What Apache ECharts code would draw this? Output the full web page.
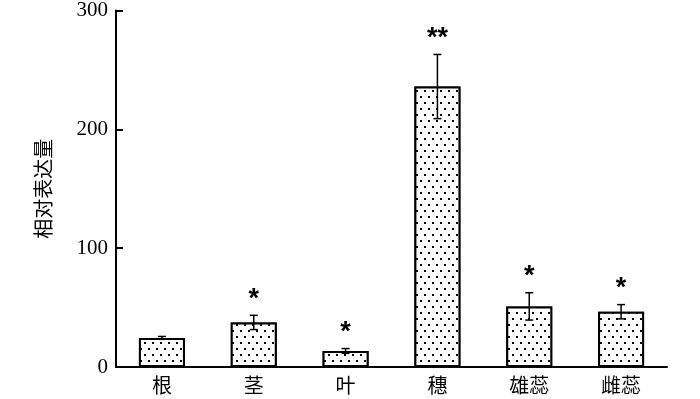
<!DOCTYPE html>
<html>
<head>
<meta charset="utf-8">
<script src="https://cdn.jsdelivr.net/npm/echarts@6/dist/echarts.min.js"></script>
<style>
  html, body { margin: 0; padding: 0; background: #fff; }
  #main { width: 700px; height: 399px; }
</style>
</head>
<body>
<div id="main"></div>
<script>
const categories = ['根', '茎', '叶', '穗', '雄蕊', '雌蕊'];
const values = [24.5, 37.5, 13.5, 236, 51, 46.5];
const errors = [1.2, 6, 2, 27, 11.5, 6];
const marks = ['', '*', '*', '**', '*', '*'];
const yTicks = [0, 100, 200, 300];

const chart = echarts.init(document.getElementById('main'));
window.onresize = () => chart.resize();

const serif = '"Liberation Serif", "DejaVu Serif", serif';
const cjk = '"Noto Sans CJK SC", sans-serif';

/** @type {import("echarts").EChartsOption} */
const option = {
  animation: false,
  grid: { left: 116, right: 33, top: 9, bottom: 32 },
  xAxis: {
    type: 'category',
    data: categories,
    axisLine: { lineStyle: { color: '#000', width: 2 } },
    axisTick: { show: false },
    axisLabel: { color: '#000', fontSize: 20, fontFamily: cjk, margin: 8 },
  },
  yAxis: {
    type: 'value',
    min: yTicks[0],
    max: yTicks[yTicks.length - 1],
    interval: 100,
    name: '相对表达量',
    nameLocation: 'middle',
    nameGap: 63,
    nameTextStyle: { color: '#000', fontSize: 20, fontFamily: cjk },
    axisLine: { show: true, lineStyle: { color: '#000', width: 2 } },
    axisTick: { show: true, inside: true, length: 7, lineStyle: { color: '#000', width: 2 } },
    axisLabel: { color: '#000', fontSize: 21, fontFamily: serif, margin: 8 },
    splitLine: { show: false },
  },
  series: [
    {
      type: 'bar',
      data: values,
      barWidth: 46,
      itemStyle: {
        color: '#fff',
        borderColor: '#000',
        borderWidth: 2,
        decal: {
          color: '#000',
          backgroundColor: '#fff',
          symbol: 'rect',
          symbolSize: 1,
          dashArrayX: [[1.6, 5.6], [0, 3.6, 1.6, 2]],
          dashArrayY: [1.6, 3.4],
        },
      },
      silent: true,
    },
    {
      type: 'custom',
      data: values.map((v, i) => [i, v, errors[i]]),
      renderItem: (params, api) => {
        const i = api.value(0);
        const v = api.value(1);
        const e = api.value(2);
        const top = api.coord([i, v + e]);
        const bot = api.coord([i, v - e]);
        const cap = 4;
        const style = { stroke: '#000', lineWidth: 1.5 };
        return {
          type: 'group',
          children: [
            { type: 'line', shape: { x1: top[0], y1: top[1], x2: bot[0], y2: bot[1] }, style },
            { type: 'line', shape: { x1: top[0] - cap, y1: top[1], x2: top[0] + cap, y2: top[1] }, style },
            { type: 'line', shape: { x1: bot[0] - cap, y1: bot[1], x2: bot[0] + cap, y2: bot[1] }, style },
            {
              type: 'text',
              x: top[0],
              y: top[1] - 16,
              style: {
                text: marks[params.dataIndex],
                fill: '#000',
                font: 'bold 27px "Liberation Sans", sans-serif',
                align: 'center',
                verticalAlign: 'middle',
              },
            },
          ],
        };
      },
      silent: true,
      z: 5,
    },
  ],
};

chart.setOption(option);
</script>
</body>
</html>
